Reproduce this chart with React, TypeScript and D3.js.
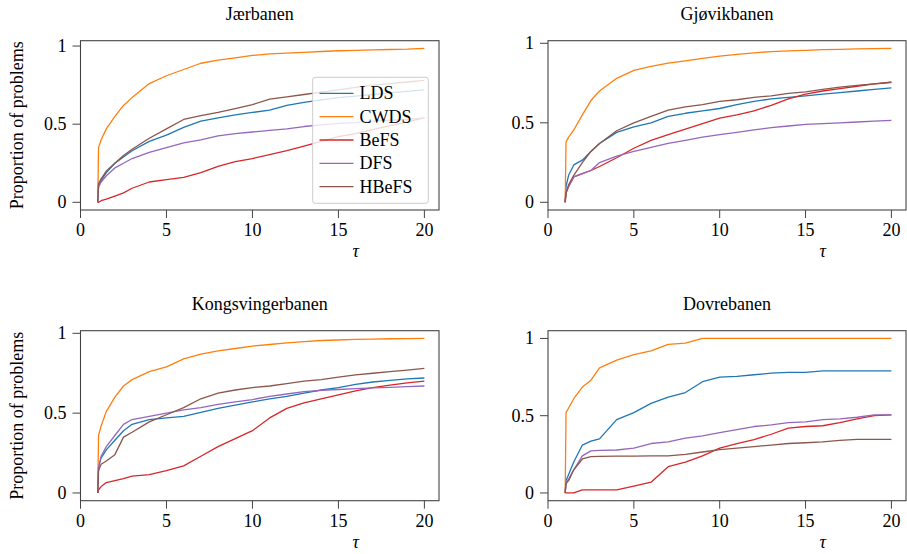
import React from 'react';
import * as d3 from 'd3';

// performance profile sample points (tau)
const TAU = [1, 1.05, 1.2, 1.5, 2, 2.5, 3, 4, 5, 6, 7, 8, 9, 10, 11, 12, 13, 14, 15, 16, 17, 18, 19, 20];

const SOLVERS = ['LDS', 'CWDS', 'BeFS', 'DFS', 'HBeFS'];
const COLORS = ['#1f77b4', '#ff7f0e', '#d62728', '#9467bd', '#8c564b'];

const X_TICKS = [0, 5, 10, 15, 20];
const Y_TICKS = [0, 0.5, 1];

// Jærbanen
const JAER_LDS = [0, 0.1, 0.14, 0.19, 0.25, 0.29, 0.33, 0.39, 0.43, 0.48, 0.52, 0.54, 0.56, 0.575, 0.59, 0.62, 0.64, 0.655, 0.67, 0.68, 0.69, 0.7, 0.71, 0.72];
const JAER_CWDS = [0, 0.35, 0.4, 0.47, 0.55, 0.62, 0.67, 0.76, 0.81, 0.85, 0.89, 0.91, 0.925, 0.94, 0.95, 0.955, 0.96, 0.965, 0.97, 0.972, 0.975, 0.978, 0.98, 0.985];
const JAER_BEFS = [0, 0.0, 0.01, 0.02, 0.04, 0.06, 0.09, 0.13, 0.145, 0.16, 0.19, 0.23, 0.26, 0.28, 0.305, 0.33, 0.36, 0.39, 0.42, 0.44, 0.465, 0.49, 0.515, 0.54];
const JAER_DFS = [0, 0.1, 0.13, 0.17, 0.22, 0.25, 0.28, 0.32, 0.35, 0.38, 0.4, 0.425, 0.44, 0.45, 0.46, 0.47, 0.485, 0.495, 0.505, 0.51, 0.52, 0.525, 0.53, 0.54];
const JAER_HBEFS = [0, 0.12, 0.15, 0.2, 0.25, 0.3, 0.34, 0.41, 0.47, 0.53, 0.555, 0.575, 0.6, 0.625, 0.66, 0.675, 0.69, 0.705, 0.72, 0.735, 0.75, 0.76, 0.77, 0.78];

// Gjøvikbanen
const GJOVIK_LDS = [0, 0.1, 0.17, 0.235, 0.265, 0.32, 0.37, 0.44, 0.475, 0.5, 0.54, 0.56, 0.575, 0.59, 0.615, 0.635, 0.65, 0.66, 0.67, 0.68, 0.69, 0.7, 0.71, 0.72];
const GJOVIK_CWDS = [0, 0.38, 0.41, 0.455, 0.55, 0.64, 0.7, 0.78, 0.83, 0.855, 0.875, 0.89, 0.905, 0.92, 0.93, 0.94, 0.948, 0.952, 0.956, 0.96, 0.962, 0.965, 0.967, 0.968];
const GJOVIK_BEFS = [0, 0.06, 0.1, 0.16, 0.18, 0.2, 0.225, 0.28, 0.34, 0.39, 0.425, 0.46, 0.495, 0.53, 0.55, 0.575, 0.61, 0.65, 0.68, 0.7, 0.715, 0.73, 0.745, 0.755];
const GJOVIK_DFS = [0, 0.06, 0.1, 0.16, 0.18, 0.2, 0.25, 0.29, 0.32, 0.345, 0.37, 0.39, 0.41, 0.425, 0.44, 0.455, 0.47, 0.48, 0.49, 0.495, 0.5, 0.505, 0.51, 0.515];
const GJOVIK_HBEFS = [0, 0.06, 0.11, 0.17, 0.25, 0.32, 0.37, 0.45, 0.5, 0.54, 0.58, 0.6, 0.615, 0.635, 0.645, 0.66, 0.67, 0.685, 0.695, 0.71, 0.725, 0.735, 0.745, 0.755];

// Kongsvingerbanen
const KONGS_LDS = [0, 0.16, 0.22, 0.27, 0.33, 0.39, 0.43, 0.46, 0.47, 0.48, 0.505, 0.53, 0.55, 0.57, 0.59, 0.605, 0.625, 0.645, 0.66, 0.68, 0.695, 0.705, 0.715, 0.72];
const KONGS_CWDS = [0, 0.36, 0.42, 0.51, 0.6, 0.67, 0.71, 0.76, 0.79, 0.84, 0.87, 0.89, 0.905, 0.92, 0.93, 0.94, 0.948, 0.955, 0.958, 0.962, 0.964, 0.966, 0.967, 0.968];
const KONGS_BEFS = [0, 0.02, 0.04, 0.065, 0.078, 0.09, 0.105, 0.115, 0.14, 0.17, 0.23, 0.29, 0.34, 0.39, 0.47, 0.53, 0.565, 0.59, 0.615, 0.64, 0.66, 0.675, 0.69, 0.7];
const KONGS_DFS = [0, 0.16, 0.23, 0.29, 0.36, 0.43, 0.46, 0.48, 0.5, 0.52, 0.535, 0.555, 0.57, 0.585, 0.605, 0.62, 0.635, 0.642, 0.648, 0.653, 0.658, 0.662, 0.666, 0.67];
const KONGS_HBEFS = [0, 0.14, 0.18, 0.2, 0.24, 0.35, 0.38, 0.445, 0.49, 0.535, 0.59, 0.625, 0.645, 0.66, 0.67, 0.685, 0.7, 0.71, 0.725, 0.74, 0.75, 0.76, 0.77, 0.78];

// Dovrebanen
const DOVRE_LDS = [0, 0.08, 0.12, 0.2, 0.31, 0.335, 0.35, 0.475, 0.52, 0.58, 0.62, 0.65, 0.72, 0.75, 0.755, 0.765, 0.775, 0.78, 0.78, 0.79, 0.79, 0.79, 0.79, 0.79];
const DOVRE_CWDS = [0, 0.52, 0.55, 0.61, 0.685, 0.73, 0.81, 0.86, 0.895, 0.92, 0.962, 0.97, 1, 1, 1, 1, 1, 1, 1, 1, 1, 1, 1, 1];
const DOVRE_BEFS = [0, 0, 0, 0, 0.02, 0.02, 0.02, 0.02, 0.045, 0.07, 0.17, 0.2, 0.24, 0.29, 0.32, 0.345, 0.38, 0.42, 0.43, 0.435, 0.455, 0.48, 0.5, 0.505];
const DOVRE_DFS = [0, 0.07, 0.09, 0.15, 0.24, 0.272, 0.275, 0.278, 0.29, 0.32, 0.33, 0.355, 0.37, 0.39, 0.41, 0.43, 0.44, 0.455, 0.46, 0.475, 0.48, 0.49, 0.505, 0.505];
const DOVRE_HBEFS = [0, 0.06, 0.08, 0.15, 0.22, 0.235, 0.237, 0.238, 0.238, 0.24, 0.24, 0.25, 0.265, 0.28, 0.29, 0.3, 0.31, 0.32, 0.325, 0.33, 0.34, 0.347, 0.347, 0.347];

const FONT = '"Liberation Serif", "DejaVu Serif", serif';

const panels = [
  { title: 'Jærbanen', series: [JAER_LDS, JAER_CWDS, JAER_BEFS, JAER_DFS, JAER_HBEFS], left: 80.5, right: 439, top: 40.7, bottom: 210, yLabel: true, legend: true },
  { title: 'Gjøvikbanen', series: [GJOVIK_LDS, GJOVIK_CWDS, GJOVIK_BEFS, GJOVIK_DFS, GJOVIK_HBEFS], left: 548, right: 906, top: 40.7, bottom: 210, yLabel: false, legend: false },
  { title: 'Kongsvingerbanen', series: [KONGS_LDS, KONGS_CWDS, KONGS_BEFS, KONGS_DFS, KONGS_HBEFS], left: 80.5, right: 439, top: 330.7, bottom: 500.7, yLabel: true, legend: false },
  { title: 'Dovrebanen', series: [DOVRE_LDS, DOVRE_CWDS, DOVRE_BEFS, DOVRE_DFS, DOVRE_HBEFS], left: 548, right: 906, top: 330.7, bottom: 500.7, yLabel: false, legend: false },
];

const Panel = ({ p }: { p: typeof panels[0] }) => {
  const maxV = d3.max(p.series, (s) => d3.max(s)) as number;
  const x = d3.scaleLinear().domain([0, 20.85]).range([p.left, p.right]);
  const y = d3.scaleLinear().domain([-0.05 * maxV, maxV * 1.05]).range([p.bottom, p.top]);
  const line = d3.line<number>().x((_, i) => x(TAU[i])).y((d) => y(d));
  const midY = (p.top + p.bottom) / 2;

  return (
    <g>
      <text x={(p.left + p.right) / 2} y={p.top - 21} textAnchor="middle" fontSize={18}>{p.title}</text>
      <defs>
        <clipPath id={'clip-' + p.title}>
          <rect x={p.left} y={p.top} width={p.right - p.left} height={p.bottom - p.top} />
        </clipPath>
      </defs>
      <g clipPath={`url(#clip-${p.title})`}>
        {p.series.map((s, i) => (
          <path key={i} d={line(s) || ''} fill="none" stroke={COLORS[i]} strokeWidth={1.3} strokeLinejoin="round" />
        ))}
      </g>
      <rect x={p.left} y={p.top} width={p.right - p.left} height={p.bottom - p.top} fill="none" stroke="#444" strokeWidth={1.1} />
      {X_TICKS.map((t) => (
        <g key={'x' + t}>
          <line x1={x(t)} x2={x(t)} y1={p.bottom} y2={p.bottom + 8} stroke="#444" strokeWidth={1} />
          <text x={x(t)} y={p.bottom + 26} textAnchor="middle" fontSize={18}>{d3.format('~g')(t)}</text>
        </g>
      ))}
      {Y_TICKS.map((t) => (
        <g key={'y' + t}>
          <line x1={p.left - 8} x2={p.left} y1={y(t)} y2={y(t)} stroke="#444" strokeWidth={1} />
          <text x={p.left - 14} y={y(t) + 6} textAnchor="end" fontSize={18}>{d3.format('~g')(t)}</text>
        </g>
      ))}
      <text x={x(16)} y={p.bottom + 47} textAnchor="middle" fontSize={18} fontStyle="italic">τ</text>
      {p.yLabel && (
        <text transform={`translate(23,${midY}) rotate(-90)`} textAnchor="middle" fontSize={18}>Proportion of problems</text>
      )}
      {p.legend && (
        <g>
          <rect x={312.7} y={77.3} width={115.6} height={126} rx={2.5} fill="white" fillOpacity={0.8} stroke="#cccccc" strokeWidth={1} />
          {SOLVERS.map((name, i) => (
            <g key={name}>
              <line x1={319.5} x2={353.5} y1={93.3 + i * 23.35} y2={93.3 + i * 23.35} stroke={COLORS[i]} strokeWidth={1.3} />
              <text x={359.5} y={93.3 + i * 23.35 + 6} fontSize={18}>{name}</text>
            </g>
          ))}
        </g>
      )}
    </g>
  );
};

export default function App() {
  return (
    <svg width={907} height={554} style={{ position: 'absolute', left: 0, top: 0, fontFamily: FONT }}>
      <rect width={907} height={554} fill="white" />
      {panels.map((p) => (
        <Panel key={p.title} p={p} />
      ))}
    </svg>
  );
}
